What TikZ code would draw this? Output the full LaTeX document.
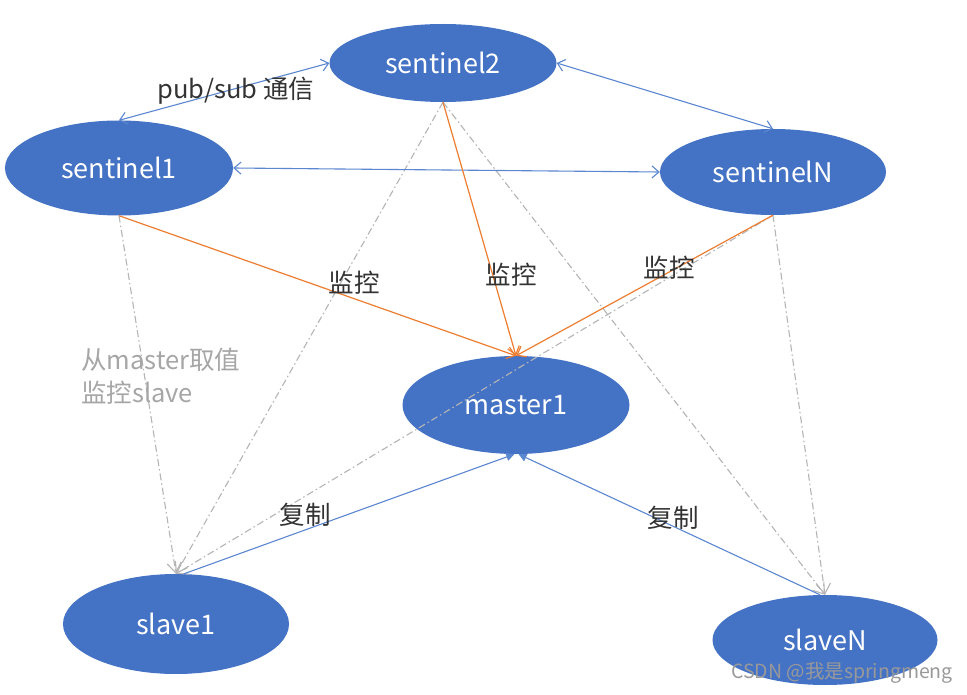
\documentclass[tikz,border=0pt]{standalone}
\usepackage{fontspec}
\setmainfont{Noto Sans CJK SC}
\usetikzlibrary{shapes.geometric,arrows.meta,backgrounds}
\definecolor{nodeblue}{HTML}{4472C4}
\definecolor{lineblue}{HTML}{5B87D0}
\definecolor{orangeline}{HTML}{ED7D31}
\definecolor{grayline}{HTML}{B5B5B5}
\definecolor{labelgray}{HTML}{A6A6A6}
\definecolor{labeldark}{HTML}{333333}
\tikzset{
  bubble/.style={ellipse, fill=nodeblue, draw=none, inner sep=0pt, text=white, font=\fontsize{27}{30}\selectfont},
  blueline/.style={draw=lineblue, line width=1.1pt},
  pairarrow/.style={blueline, {Straight Barb[length=7pt,width=12pt]}-{Straight Barb[length=7pt,width=12pt]}},
  watcharrow/.style={draw=orangeline, line width=1.2pt, -{Straight Barb[length=8pt,width=12pt]}},
  copyarrow/.style={blueline, -{Triangle[length=8pt,width=8pt]}},
  grayarrow/.style={draw=grayline, line width=1.1pt, dash pattern=on 7pt off 3pt on 1.5pt off 3pt, -{Straight Barb[length=10pt,width=14pt]}},
  edgelabel/.style={text=labeldark, font=\fontsize{25.5}{28}\selectfont, inner sep=1pt}
}
\begin{document}
\begin{tikzpicture}[x=1pt,y=-1pt]
\useasboundingbox (0,0) rectangle (967,695);
\fill[white] (0,0) rectangle (967,695);
% nodes
\node[bubble, minimum width=227pt, minimum height=78pt] (s2) at (443,63) {sentinel2};
\node[bubble, minimum width=228pt, minimum height=95pt] (s1) at (119,168) {sentinel1};
\node[bubble, minimum width=226pt, minimum height=86pt] (sN) at (773,172) {sentinelN};
\node[bubble, minimum width=227pt, minimum height=98pt] (m) at (516,405) {master1};
\node[bubble, minimum width=226pt, minimum height=100pt] (sl1) at (176,624) {slave1};
\node[bubble, minimum width=225pt, minimum height=90pt] (slN) at (825,640) {slaveN};
% hidden behind master
\begin{scope}[on background layer]
\draw[grayarrow] (s1.south) -- (slN.north);
\end{scope}
% gray monitoring lines
\draw[grayarrow] (s1.south) -- (sl1.north);
\draw[grayarrow] (s2.south) -- (sl1.north);
\draw[grayarrow] (s2.south) -- (slN.north);
\draw[grayarrow] (sN.south) -- (sl1.north);
\draw[grayarrow] (sN.south) -- (slN.north);
% sentinel links
\draw[pairarrow] (s1.north) -- (s2.west);
\draw[pairarrow] (s2.east) -- (sN.north);
\draw[pairarrow] (s1.east) -- (sN.west);
% watch arrows
\draw[watcharrow] (s1.south) -- (m.north);
\draw[watcharrow] (s2.south) -- (m.north);
\draw[watcharrow] (sN.south) -- (m.north);
% copy arrows
\draw[copyarrow] (sl1.north) ++(8pt,0) coordinate (c1) (c1) -- (m.-92);
\draw[copyarrow] (slN.north) ++(-5pt,0) coordinate (c2) (c2) -- (m.-87);
% labels
\node[edgelabel] (lps) at (236,91) {pub/sub 通信};
\node[edgelabel] (lw1) at (354,283) {监控};
\node[edgelabel] (lw2) at (511,275) {监控};
\node[edgelabel] (lw3) at (669,268) {监控};
\node[edgelabel] (lc1) at (305,515) {复制};
\node[edgelabel] (lc2) at (673,518) {复制};
\node[text=labelgray, font=\fontsize{25.5}{33}\selectfont, align=left, anchor=north west, inner sep=0pt] (lg) at (81,348) {从master取值\\监控slave};
\node[text=white, font=\fontsize{19.5}{22}\selectfont, inner sep=0pt, anchor=east] (wm) at (953,673) {\textcolor{gray!80}{CSDN @我是springmeng}};
\end{tikzpicture}
\end{document}
